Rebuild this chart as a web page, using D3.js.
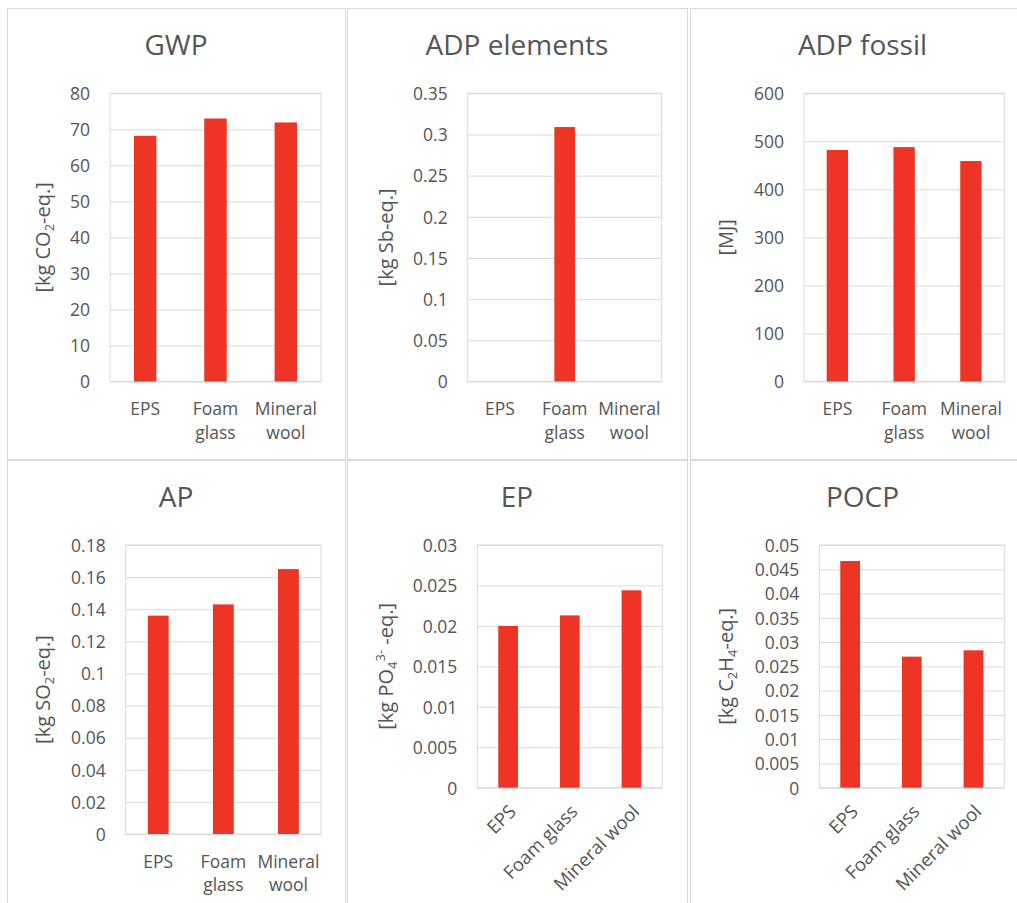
<!DOCTYPE html>
<html>
<head>
<meta charset="utf-8">
<script src="https://cdn.jsdelivr.net/npm/d3@7"></script>
<style>
  html, body { margin: 0; padding: 0; background: #fff; }
  svg { display: block; font-family: "Open Sans", sans-serif; }
</style>
</head>
<body>
<script>
// Insulation materials compared per impact category
const categories = ["EPS", "Foam glass", "Mineral wool"];

const gwpValues        = [68.2, 73.0, 71.9];
const adpElementValues = [0, 0.309, 0];
const adpFossilValues  = [482, 488, 459];
const apValues         = [0.136, 0.143, 0.165];
const epValues         = [0.0200, 0.0213, 0.0244];
const pocpValues       = [0.0467, 0.0270, 0.0283];

const gwpTicks        = [0, 10, 20, 30, 40, 50, 60, 70, 80];
const adpElementTicks = [0, 0.05, 0.1, 0.15, 0.2, 0.25, 0.3, 0.35];
const adpFossilTicks  = [0, 100, 200, 300, 400, 500, 600];
const apTicks         = [0, 0.02, 0.04, 0.06, 0.08, 0.1, 0.12, 0.14, 0.16, 0.18];
const epTicks         = [0, 0.005, 0.01, 0.015, 0.02, 0.025, 0.03];
const pocpTicks       = [0, 0.005, 0.01, 0.015, 0.02, 0.025, 0.03, 0.035, 0.04, 0.045, 0.05];

const titles = ["GWP", "ADP elements", "ADP fossil", "AP", "EP", "POCP"];

// unit labels: [text, "sub" | "sup" | ""]
const unitLabels = [
  [["[kg CO", ""], ["2", "sub"], ["-eq.]", ""]],
  [["[kg Sb-eq.]", ""]],
  [["[MJ]", ""]],
  [["[kg SO", ""], ["2", "sub"], ["-eq.]", ""]],
  [["[kg PO", ""], ["4", "sub"], ["3-", "sup"], [" -eq.]", ""]],
  [["[kg C", ""], ["2", "sub"], ["H", ""], ["4", "sub"], ["-eq.]", ""]]
];

const seriesList = [gwpValues, adpElementValues, adpFossilValues, apValues, epValues, pocpValues];
const tickList = [gwpTicks, adpElementTicks, adpFossilTicks, apTicks, epTicks, pocpTicks];

// ---- layout ----
const W = 1017, H = 903;
const TEXT = "#555555", GRID = "#d9d9d9", BAR = "#ee3424";
const colX = [7, 347, 690], colW = [338, 340, 345];
const rowY = [8, 460], rowH = [451, 460];
const plotBoxes = [
  { l: 110,   r: 321,    t: 93.3, b: 381.5 },
  { l: 467.7, r: 661.7,  t: 93.3, b: 381.5 },
  { l: 804,   r: 1004.3, t: 93.3, b: 381.5 },
  { l: 125.7, r: 321,    t: 545,  b: 834 },
  { l: 477.3, r: 662.3,  t: 545,  b: 787.7 },
  { l: 819.3, r: 1004.3, t: 545,  b: 787.7 }
];
const rotatedLabels = [false, false, false, false, true, true];

const svg = d3.select("body").append("svg").attr("width", W).attr("height", H);
svg.append("rect").attr("width", W).attr("height", H).attr("fill", "#fff");

titles.forEach((title, i) => {
  const col = i % 3, row = Math.floor(i / 3);
  const px = colX[col], py = rowY[row];
  const box = plotBoxes[i];
  const values = seriesList[i];
  const ticks = tickList[i];

  const g = svg.append("g");

  // chart frame
  g.append("rect")
    .attr("x", px + 0.5).attr("y", py + 0.5)
    .attr("width", colW[col]).attr("height", rowH[row])
    .attr("fill", "#fff").attr("stroke", GRID).attr("stroke-width", 1);

  // title
  g.append("text")
    .attr("x", px + colW[col] / 2).attr("y", py + 47)
    .attr("text-anchor", "middle")
    .attr("fill", TEXT).attr("font-size", 28)
    .text(title);

  const y = d3.scaleLinear().domain([0, d3.max(ticks)]).range([box.b, box.t]);
  const x = d3.scaleBand().domain(categories).range([box.l, box.r])
    .paddingInner(0.68).paddingOuter(0.34);

  // gridlines + value labels
  const yAxis = g.append("g")
    .attr("transform", `translate(${box.l},0)`)
    .call(d3.axisLeft(y).tickValues(ticks).tickFormat(d => String(d))
      .tickSize(-(box.r - box.l)).tickPadding(20));
  yAxis.select(".domain").remove();
  yAxis.selectAll("line").attr("stroke", GRID);
  yAxis.selectAll("text").attr("fill", TEXT).attr("font-size", 17.5)
    .attr("font-family", "Open Sans").attr("dy", "0.36em");

  // plot area border
  g.append("rect")
    .attr("x", box.l).attr("y", box.t)
    .attr("width", box.r - box.l).attr("height", box.b - box.t)
    .attr("fill", "none").attr("stroke", GRID);

  // bars
  g.append("g").selectAll("rect")
    .data(categories.map((c, k) => ({ c, v: values[k] })))
    .join("rect")
    .attr("x", d => x(d.c)).attr("width", x.bandwidth())
    .attr("y", d => y(d.v)).attr("height", d => y(0) - y(d.v))
    .attr("fill", BAR);

  // category labels
  const xAxis = g.append("g")
    .attr("transform", `translate(0,${box.b})`)
    .call(d3.axisBottom(x).tickSize(0).tickPadding(0));
  xAxis.select(".domain").remove();
  const labels = xAxis.selectAll("text")
    .attr("fill", TEXT).attr("font-family", "Open Sans").attr("font-size", 17.5);

  if (rotatedLabels[i]) {
    labels.attr("y", 0).attr("dy", null)
      .attr("font-size", 18.5)
      .attr("text-anchor", "end")
      .attr("transform", "translate(9,25) rotate(-45)");
  } else {
    labels.each(function (d) {
      const t = d3.select(this).attr("y", null).attr("dy", null).text(null);
      d.split(" ").forEach((word, k) => {
        t.append("tspan").attr("x", 0).attr("y", 33.5 + k * 23.5).text(word);
      });
    });
  }

  // unit label
  const cy = (box.t + box.b) / 2;
  const ux = px + (col === 1 ? 46 : 43);
  const unit = g.append("text")
    .attr("transform", `translate(${ux},${cy}) rotate(-90)`)
    .attr("text-anchor", "middle").attr("dy", "0.35em")
    .attr("fill", TEXT).attr("font-size", 20);
  let shift = 0;
  unitLabels[i].forEach(([txt, kind]) => {
    const target = kind === "sub" ? 4 : kind === "sup" ? -8 : 0;
    const ts = unit.append("tspan").text(txt).attr("dy", target - shift);
    if (kind) ts.attr("font-size", 13);
    shift = target;
  });
});
</script>
</body>
</html>
